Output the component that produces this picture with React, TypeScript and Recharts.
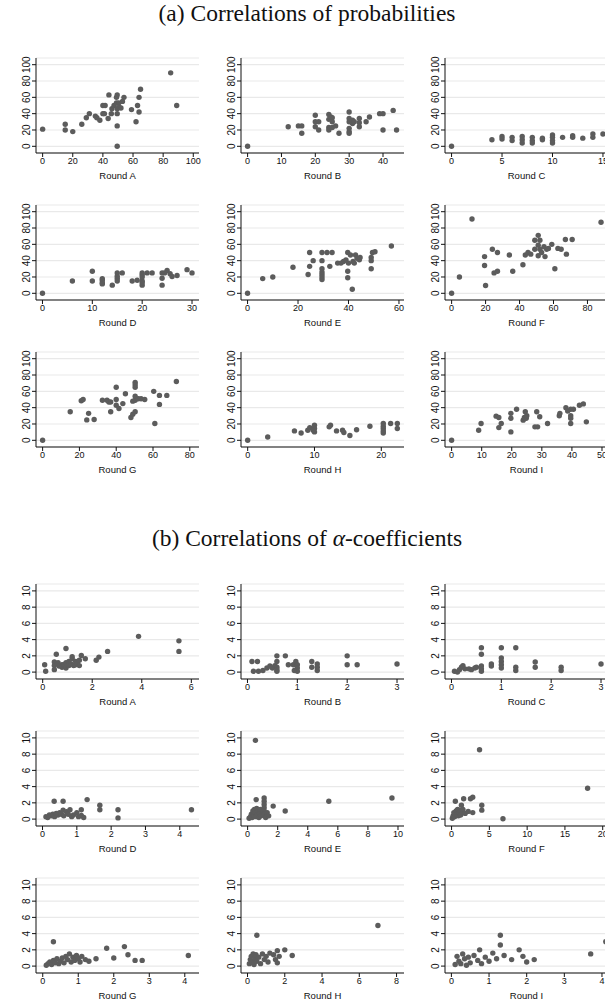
import React from 'react';
import { ScatterChart, Scatter, XAxis, YAxis, CartesianGrid } from 'recharts';

// ---------- (a) Correlations of probabilities ----------
const probA = [[0,21],[15,27],[15,20],[20,18],[26,27],[29,35],[31,40],[35,37],[36,35],[38,32],[40,40],[40,50],[41.5,50],[41,40],[43.5,34],[44,63],[45.6,40],[46,46],[47.4,50],[49,53],[49,60],[49.5,63],[49.5,40],[49.5,46],[49.5,25],[49.5,0],[50.5,53],[50.8,48],[52,47],[53,55],[54,60],[59,45],[62,30],[63,50],[64,60],[64,42],[65,70],[85,90],[89,50]];
const probB = [[0,0],[12,24],[15,25],[16,25],[16,16],[20,38],[20,30],[21,30],[20,24],[21,20],[24,39],[24,33],[24.6,36],[25,35],[25,30],[24,23],[24,20],[25,23],[26,25],[27,16],[30,42],[30,34],[30,30],[31,32],[31,28],[31.5,30],[30,22],[30,18],[30,16],[33,34],[33,24],[33,29],[35,30],[36,36],[39,40],[40,40],[40,20],[43,44],[44,20]];
const probC = [[0,0],[4,8],[5,12],[5,9],[6,11],[6,7],[7,12],[7,8],[7,4],[8,11],[8,7],[8,4],[9,10],[9,8],[10,14],[10,11],[10,7],[10,4],[11,11],[12,13],[12,11],[13,10],[14,15],[14,11],[15,15]];
const probD = [[0,0],[6,15],[10,27],[10,15],[12,18],[12,16],[12,13],[12,11.5],[14,10],[15,25],[15,21],[15,18],[15,15],[16,25],[18,15],[19,16],[20,15],[20,22.6],[20,20],[20,25],[20,10],[20,13],[21,25],[22,25],[24,25],[24,18.5],[24,10],[25,28],[24.5,25],[25.6,24],[26,20.6],[27,21.8],[29,29],[30,25]];
const probE = [[0,0],[6,18],[10,20],[18,32],[24,23],[24.6,33],[24.6,50],[26,40],[29.5,50],[29.5,40],[29.5,30],[29.5,26],[29.5,23],[29.5,20],[29.5,17],[31.5,50],[32.6,33],[33.5,50],[35.7,37],[37,37],[38,39],[39,41],[40,37],[39.7,50],[40.8,47],[39.7,27],[39.7,19],[41.8,39],[42.3,37],[42.8,47],[43.4,43],[41.5,5],[44.3,41],[44.6,44],[49,44],[49,40],[49,30],[49.5,50],[50.5,51],[57,58]];
const probF = [[0,0],[4.6,20],[12,91],[19.4,45],[19.4,34],[20,9.5],[24,54],[25,25],[27,50],[27,27],[34,47],[36,27],[42,35],[43.4,47],[45,50],[46.6,48],[49,54],[49,65],[51,71],[51,59],[51,46],[52,65],[52,54],[53,50],[54.4,57],[55,45],[56,54],[57,55],[59,60],[60.8,30],[62.6,55],[64.5,54],[67,66],[67.6,48],[71,66],[88,87]];
const probG = [[0,0],[15,35],[21,48.5],[22,50],[24,25],[25,33],[28,25.5],[32.5,49],[35,49],[36,47],[37,35],[37,47],[40,65],[40,50],[40,43],[41.5,39],[43.6,45],[45,57],[48,28],[49,32],[50.3,35],[50.3,71],[50.3,68],[50.3,65],[50.3,49],[50.3,54],[49,48],[52,51],[53.5,51],[55.5,50],[61,20.6],[60.4,60],[63.5,55],[63.5,44],[67.5,55],[72.7,72]];
const probH = [[0,0],[3,4],[7,11.5],[8,9],[9,12.3],[9.3,15.6],[10,18.5],[10,14.4],[10,10.3],[9.8,12.3],[12.2,16.5],[12.4,18.5],[13.3,11.5],[14.2,12.3],[14.4,9.5],[15.3,5.8],[16.3,13],[18.3,17.3],[20.3,20.6],[20.3,17.3],[20.3,14.4],[20.3,11.5],[20.3,9],[21.4,20.6],[22.4,20.6],[22.4,14.4]];
const probI = [[0,0],[9,12.3],[9.8,20.6],[14.8,29.6],[15.7,28],[16.5,20.6],[15.7,15.6],[19.7,33],[19.7,27],[19.7,10.3],[21.6,38],[23.8,24.7],[24.2,28],[24.8,27],[25,30],[24.5,35],[27.7,16.5],[28.6,16.5],[28.3,35],[29.3,28.8],[31.9,20.6],[35.8,30],[36,33],[38,40],[38.6,36],[39.6,38],[39.6,20.6],[39.6,30],[39.6,27],[40.5,38],[42.5,43],[43.8,44.6],[44.8,22.6]];

// ---------- (b) Correlations of alpha-coefficients ----------
const alphaA = [[0.08,0.9],[0.12,0.1],[0.55,2.2],[0.47,1.25],[0.47,0.8],[0.47,0.3],[0.62,1.15],[0.66,0.75],[0.78,0.9],[0.78,0.6],[0.86,0.9],[0.94,2.9],[0.94,1.15],[0.94,0.5],[0.97,0.9],[1.06,1.3],[1.06,0.8],[1.14,1.0],[1.19,1.65],[1.19,1.9],[1.25,0.8],[1.33,1.3],[1.33,0.9],[1.4,1.15],[1.48,1.45],[1.48,0.8],[1.56,2.05],[1.72,1.65],[2.16,1.45],[2.27,1.85],[2.62,2.55],[3.87,4.4],[5.5,3.85],[5.5,2.55]];
const alphaB = [[0.09,1.3],[0.2,1.3],[0.12,0.1],[0.22,0.1],[0.31,0.2],[0.39,0.5],[0.45,0.75],[0.5,0.5],[0.55,0.8],[0.59,2.0],[0.59,1.3],[0.59,0.6],[0.59,0.1],[0.59,0.3],[0.76,2.0],[0.82,0.9],[0.92,0.9],[0.97,1.3],[1.0,0.9],[1.0,0.5],[1.0,0.1],[0.94,0.2],[1.29,1.3],[1.29,0.6],[1.4,1.0],[1.4,0.6],[1.4,0.2],[2.0,2.0],[2.0,0.9],[2.2,0.9],[3.0,1.0]];
const alphaC = [[0.06,0.1],[0.12,0],[0.16,0.3],[0.2,0.6],[0.23,0.8],[0.27,0.4],[0.35,0.4],[0.4,0.3],[0.47,0.5],[0.5,0.6],[0.6,3.0],[0.6,2.2],[0.6,0.75],[0.6,0.4],[0.6,0.1],[0.8,1.0],[0.8,0.75],[1.0,3.0],[1.0,1.75],[1.0,1.3],[1.0,0.9],[1.0,0.5],[1.29,3.0],[1.29,0.6],[1.29,0.2],[1.68,1.25],[1.68,0.6],[2.2,0.6],[2.2,0.2],[3.0,1.0]];
const alphaD = [[0.1,0.3],[0.15,0.2],[0.2,0.5],[0.25,0.4],[0.3,0.6],[0.34,2.2],[0.35,0.3],[0.4,0.7],[0.45,0.5],[0.5,0.8],[0.55,0.6],[0.6,2.2],[0.6,1.1],[0.62,0.4],[0.7,0.9],[0.75,0.6],[0.8,1.15],[0.85,0.3],[0.9,0.5],[1.0,0.8],[1.05,0.3],[1.13,1.15],[1.13,0.45],[1.2,0.2],[1.3,2.4],[1.67,1.7],[1.67,1.15],[2.2,1.15],[2.2,0.15],[4.34,1.15]];
const alphaE = [[0.1,0.1],[0.2,0.3],[0.25,0.6],[0.3,0.2],[0.35,1.0],[0.4,0.5],[0.45,1.2],[0.5,0.8],[0.52,9.7],[0.55,0.3],[0.57,2.4],[0.6,1.3],[0.65,0.6],[0.7,1.0],[0.75,0.2],[0.8,0.7],[0.85,1.2],[0.9,0.4],[1.0,0.9],[1.1,2.6],[1.1,2.2],[1.1,1.8],[1.1,1.4],[1.1,1.0],[1.1,0.6],[1.2,0.2],[1.3,0.8],[1.4,0.4],[1.7,1.6],[2.5,1.0],[5.4,2.2],[9.6,2.6]];
const alphaF = [[0.1,0.1],[0.2,0.4],[0.3,0.8],[0.4,0.3],[0.5,2.2],[0.6,1.0],[0.7,0.6],[0.8,1.2],[0.9,0.4],[1.0,0.8],[1.1,1.1],[1.2,0.5],[1.3,1.7],[1.4,0.9],[1.5,1.2],[1.6,2.5],[1.8,0.7],[2.2,0.95],[2.5,2.5],[2.8,2.7],[2.8,0.8],[3.7,8.55],[4.0,1.7],[4.0,1.1],[6.8,0.05],[18,3.8]];
const alphaG = [[0.1,0.1],[0.15,0.3],[0.2,0.5],[0.25,0.2],[0.3,3.0],[0.3,0.7],[0.35,0.4],[0.4,0.9],[0.45,0.3],[0.5,0.6],[0.55,1.0],[0.6,0.4],[0.65,1.2],[0.7,0.8],[0.75,1.5],[0.8,0.5],[0.85,1.1],[0.9,0.7],[0.95,1.3],[1.0,0.9],[1.05,0.5],[1.1,1.2],[1.2,0.8],[1.3,0.6],[1.5,0.9],[1.8,2.2],[2.0,1.0],[2.3,2.4],[2.4,1.4],[2.6,0.7],[2.8,0.7],[4.1,1.3]];
const alphaH = [[0.1,0.3],[0.15,0.8],[0.2,1.2],[0.25,0.5],[0.3,1.5],[0.35,0.2],[0.4,0.9],[0.45,1.4],[0.5,3.8],[0.5,0.6],[0.6,1.1],[0.7,0.3],[0.8,1.5],[0.9,0.8],[1.0,1.2],[1.1,0.5],[1.2,1.6],[1.4,1.4],[1.5,0.8],[1.6,1.9],[1.6,0.4],[1.7,1.2],[2.0,2.0],[2.4,1.3],[7.0,5.0]];
const alphaI = [[0.1,0.2],[0.15,1.2],[0.2,0.6],[0.25,0.3],[0.3,1.5],[0.35,0.9],[0.4,0.1],[0.45,1.1],[0.5,0.4],[0.6,1.3],[0.7,0.7],[0.75,2.0],[0.8,0.3],[0.9,1.1],[1.0,0.6],[1.1,1.6],[1.2,0.9],[1.3,3.8],[1.3,2.6],[1.4,1.3],[1.6,0.8],[1.8,2.0],[1.9,1.2],[2.0,0.5],[2.2,0.8],[3.7,1.5],[4.1,3.0]];

// ---------- tick labels ----------
const probYTicks = [0, 20, 40, 60, 80, 100];
const alphaYTicks = [0, 2, 4, 6, 8, 10];
const roundNames = ['Round A','Round B','Round C','Round D','Round E','Round F','Round G','Round H','Round I'];

const probXTicks = [
  [0,20,40,60,80,100],[0,10,20,30,40],[0,5,10,15],
  [0,10,20,30],[0,20,40,60],[0,20,40,60,80],
  [0,20,40,60,80],[0,10,20],[0,10,20,30,40,50],
];
const probXDomains = [
  [-4.4,103.8],[-1.95,46.2],[-0.65,15.5],
  [-1.3,31.4],[-2.6,62],[-3.9,92.1],
  [-3.6,85],[-1,23.4],[-2.2,52],
];
const alphaXTicks = [
  [0,2,4,6],[0,1,2,3],[0,1,2,3],
  [0,1,2,3,4],[0,2,4,6,8,10],[0,5,10,15,20],
  [0,1,2,3,4],[0,2,4,6,8],[0,1,2,3,4],
];
const alphaXDomains = [
  [-0.27,6.31],[-0.13,3.14],[-0.13,3.14],
  [-0.19,4.56],[-0.44,10.4],[-0.87,20.7],
  [-0.19,4.4],[-0.35,8.4],[-0.17,4.16],
];
const probSeries = [probA, probB, probC, probD, probE, probF, probG, probH, probI];
const alphaSeries = [alphaA, alphaB, alphaC, alphaD, alphaE, alphaF, alphaG, alphaH, alphaI];

// ---------- layout ----------
const COL_X = [36, 241, 445];
const PLOT_W = 163;
const PLOT_H = 95;
const Y_AX_W = 36;
const TOP_M = 5;
const RIGHT_M = 14;
const X_AX_H = 36;
const ROWS_A = [58, 205, 352];
const ROWS_B = [584, 731, 878];
const SANS = '"Liberation Sans", Arial, Helvetica, sans-serif';
const SERIF = '"Liberation Serif", "Times New Roman", serif';
const DOT = '#5c5c5c';

const RotTick = (props: any) => {
  const { x, y, payload } = props;
  return (
    <text x={x} y={y} transform={`rotate(-90 ${x} ${y})`} textAnchor="middle" fontSize={10} fill="#111" fontFamily={SANS}>
      {payload.value}
    </text>
  );
};

const Dot = (props: any) => <circle cx={props.cx} cy={props.cy} r={2.7} fill={DOT} />;

function Panel(p: { left: number; top: number; data: number[][]; xDomain: number[]; xTicks: number[]; yDomain: number[]; yTicks: number[]; title: string }) {
  const pts = p.data.map(([x, y]) => ({ x, y }));
  return (
    <div style={{ position: 'absolute', left: p.left - Y_AX_W, top: p.top - TOP_M }}>
      <ScatterChart width={Y_AX_W + PLOT_W + RIGHT_M} height={TOP_M + PLOT_H + X_AX_H} margin={{ top: TOP_M, right: RIGHT_M, bottom: 0, left: 0 }}>
        <CartesianGrid horizontal vertical={false} stroke="#e9e9e9" strokeWidth={1.2} />
        <XAxis
          type="number" dataKey="x" domain={p.xDomain} ticks={p.xTicks} allowDataOverflow interval={0}
          height={X_AX_H} tickSize={4} tickMargin={1}
          axisLine={{ stroke: '#111' }} tickLine={{ stroke: '#111' }}
          tick={{ fontSize: 9, fill: '#111', fontFamily: SANS }}
          label={{ value: p.title, position: 'insideBottom', offset: 10, fontSize: 9.5, fill: '#111', fontFamily: SANS }}
        />
        <YAxis
          type="number" dataKey="y" domain={p.yDomain} ticks={p.yTicks} allowDataOverflow interval={0}
          width={Y_AX_W} tickSize={4} tickMargin={2}
          axisLine={{ stroke: '#111' }} tickLine={{ stroke: '#111' }}
          tick={<RotTick />}
        />
        <Scatter data={pts} isAnimationActive={false} shape={<Dot />} />
      </ScatterChart>
    </div>
  );
}

export default function App() {
  return (
    <div style={{ position: 'absolute', left: 0, top: 0, width: 605, height: 1002, overflow: 'hidden', background: '#fff' }}>
      <div style={{ position: 'absolute', left: 0, width: 614, top: 0, textAlign: 'center', fontFamily: SERIF, fontSize: 23.5, lineHeight: '26px', color: '#111' }}>
        (a) Correlations of probabilities
      </div>
      <div style={{ position: 'absolute', left: 0, width: 614, top: 525, textAlign: 'center', fontFamily: SERIF, fontSize: 23.5, lineHeight: '26px', color: '#111' }}>
        (b) Correlations of <span style={{ fontStyle: 'italic' }}>α</span>-coefficients
      </div>
      {probSeries.map((d, i) => (
        <Panel key={'a' + i} left={COL_X[i % 3]} top={ROWS_A[Math.floor(i / 3)]} data={d}
          xDomain={probXDomains[i]} xTicks={probXTicks[i]} yDomain={[-8.2, 108.2]} yTicks={probYTicks} title={roundNames[i]} />
      ))}
      {alphaSeries.map((d, i) => (
        <Panel key={'b' + i} left={COL_X[i % 3]} top={ROWS_B[Math.floor(i / 3)]} data={d}
          xDomain={alphaXDomains[i]} xTicks={alphaXTicks[i]} yDomain={[-0.85, 10.85]} yTicks={alphaYTicks} title={roundNames[i]} />
      ))}
    </div>
  );
}
